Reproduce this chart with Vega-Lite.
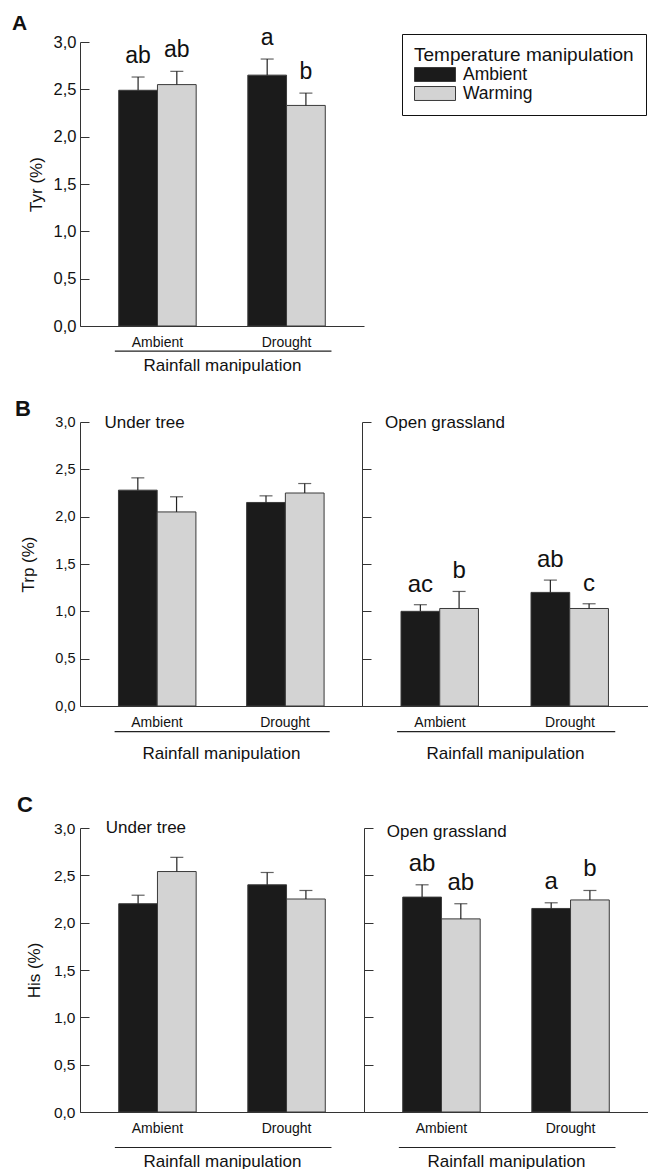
{
  "$schema": "https://vega.github.io/schema/vega-lite/v6.json",
  "padding": {"left": 12, "top": 13, "right": 0, "bottom": 0},
  "config": {
    "font": "Liberation Sans",
    "view": {"stroke": null},
    "axis": {"domainColor": "#333", "tickColor": "#333", "labelColor": "#111", "titleColor": "#111", "titleFontWeight": "normal", "grid": false},
    "title": {"fontWeight": "bold", "anchor": "start", "frame": "group", "baseline": "alphabetic", "color": "#111"}
  },
  "datasets": {
    "dA": [
      {"rain": "Ambient", "temp": "Ambient", "mean": 2.49, "upper": 2.63, "letter": "ab"},
      {"rain": "Ambient", "temp": "Warming", "mean": 2.55, "upper": 2.69, "letter": "ab"},
      {"rain": "Drought", "temp": "Ambient", "mean": 2.65, "upper": 2.82, "letter": "a"},
      {"rain": "Drought", "temp": "Warming", "mean": 2.33, "upper": 2.46, "letter": "b"}
    ],
    "dBt": [
      {"rain": "Ambient", "temp": "Ambient", "mean": 2.28, "upper": 2.41},
      {"rain": "Ambient", "temp": "Warming", "mean": 2.05, "upper": 2.21},
      {"rain": "Drought", "temp": "Ambient", "mean": 2.15, "upper": 2.22},
      {"rain": "Drought", "temp": "Warming", "mean": 2.25, "upper": 2.35}
    ],
    "dBo": [
      {"rain": "Ambient", "temp": "Ambient", "mean": 1.0, "upper": 1.07, "letter": "ac"},
      {"rain": "Ambient", "temp": "Warming", "mean": 1.03, "upper": 1.21, "letter": "b"},
      {"rain": "Drought", "temp": "Ambient", "mean": 1.2, "upper": 1.33, "letter": "ab"},
      {"rain": "Drought", "temp": "Warming", "mean": 1.03, "upper": 1.08, "letter": "c"}
    ],
    "dCt": [
      {"rain": "Ambient", "temp": "Ambient", "mean": 2.2, "upper": 2.29},
      {"rain": "Ambient", "temp": "Warming", "mean": 2.54, "upper": 2.69},
      {"rain": "Drought", "temp": "Ambient", "mean": 2.4, "upper": 2.53},
      {"rain": "Drought", "temp": "Warming", "mean": 2.25, "upper": 2.34}
    ],
    "dCo": [
      {"rain": "Ambient", "temp": "Ambient", "mean": 2.27, "upper": 2.4, "letter": "ab"},
      {"rain": "Ambient", "temp": "Warming", "mean": 2.04, "upper": 2.2, "letter": "ab"},
      {"rain": "Drought", "temp": "Ambient", "mean": 2.15, "upper": 2.21, "letter": "a"},
      {"rain": "Drought", "temp": "Warming", "mean": 2.24, "upper": 2.34, "letter": "b"}
    ]
  },
  "resolve": {"scale": {"color": "independent"}},
  "bounds": "flush",
  "spacing": 96,
  "vconcat": [
    {
      "width": 284, "height": 284,
      "title": {"text": "A", "fontSize": 21, "dx": -68, "offset": -7},
      "data": {"name": "dA"},
      "layer": [
        {
          "mark": {"type": "bar", "stroke": "#3a3a3a", "strokeWidth": 1},
          "encoding": {
            "x": {"field": "rain", "type": "nominal", "scale": {"paddingInner": 0.4, "paddingOuter": 0.3},
                  "axis": {"title": "Rainfall manipulation", "ticks": false, "labelAngle": 0, "labelFontSize": 14, "labelPadding": 9, "titleFontSize": 17, "titlePadding": 8}},
            "xOffset": {"field": "temp", "type": "nominal", "scale": {"paddingInner": 0, "paddingOuter": 0}},
            "y": {"field": "mean", "type": "quantitative", "scale": {"domain": [0, 3], "nice": false},
                  "axis": {"title": "Tyr (%)", "values": [0, 0.5, 1, 1.5, 2, 2.5, 3], "labelExpr": "replace(format(datum.value, '.1f'), '.', ',')", "tickSize": -9, "labelPadding": 13, "labelFontSize": 16.5, "titleFontSize": 17, "titlePadding": 8}},
            "color": {"field": "temp", "type": "nominal", "scale": {"domain": ["Ambient", "Warming"], "range": ["#1b1b1b", "#d3d3d3"]},
                      "legend": {"orient": "none", "legendX": 322, "legendY": -8, "title": "Temperature manipulation", "titleLimit": 400, "titleFontSize": 19, "titleFontWeight": "normal", "titleColor": "#111", "labelFontSize": 17.5, "labelColor": "#111", "symbolType": "M-1,-0.34L1,-0.34L1,0.34L-1,0.34Z", "symbolSize": 1681, "symbolStrokeColor": "#3a3a3a", "symbolStrokeWidth": 1, "clipHeight": 19, "strokeColor": "#111", "padding": 12, "symbolOffset": 0, "labelOffset": 7, "titlePadding": 0, "rowPadding": 0}}
          }
        },
        {
          "mark": {"type": "rule", "color": "#222", "strokeWidth": 1.2},
          "encoding": {
            "x": {"field": "rain", "type": "nominal"},
            "xOffset": {"field": "temp", "type": "nominal"},
            "y": {"field": "mean", "type": "quantitative"},
            "y2": {"field": "upper"}
          }
        },
        {
          "mark": {"type": "tick", "color": "#222", "size": 13, "thickness": 1.2},
          "encoding": {
            "x": {"field": "rain", "type": "nominal"},
            "xOffset": {"field": "temp", "type": "nominal"},
            "y": {"field": "upper", "type": "quantitative"}
          }
        },
        {
          "mark": {"type": "text", "fontSize": 23, "dy": -14, "baseline": "alphabetic", "color": "#111"},
          "encoding": {
            "x": {"field": "rain", "type": "nominal"},
            "xOffset": {"field": "temp", "type": "nominal"},
            "y": {"field": "upper", "type": "quantitative"},
            "text": {"field": "letter"}
          }
        },
        {
          "data": {"values": [{}]},
          "mark": {"type": "rule", "color": "#222", "strokeWidth": 1.2},
          "encoding": {
            "x": {"datum": "Ambient", "bandPosition": -0.05},
            "x2": {"datum": "Drought", "bandPosition": 1.08},
            "y": {"datum": -0.265}
          }
        }
      ]
    },
    {
      "bounds": "flush",
      "spacing": 0,
      "hconcat": [
        {
          "width": 282, "height": 284,
          "title": {"text": "B", "fontSize": 22, "dx": -65, "offset": -7},
          "data": {"name": "dBt"},
          "layer": [
            {
              "mark": {"type": "bar", "stroke": "#3a3a3a", "strokeWidth": 1},
              "encoding": {
                "x": {"field": "rain", "type": "nominal", "scale": {"paddingInner": 0.4, "paddingOuter": 0.3},
                      "axis": {"title": "Rainfall manipulation", "ticks": false, "labelAngle": 0, "labelFontSize": 14, "labelPadding": 9, "titleFontSize": 17, "titlePadding": 16}},
                "xOffset": {"field": "temp", "type": "nominal", "scale": {"paddingInner": 0, "paddingOuter": 0}},
                "y": {"field": "mean", "type": "quantitative", "scale": {"domain": [0, 3], "nice": false},
                      "axis": {"title": "Trp (%)", "values": [0, 0.5, 1, 1.5, 2, 2.5, 3], "labelExpr": "replace(format(datum.value, '.1f'), '.', ',')", "tickSize": -9, "labelPadding": 14, "labelFontSize": 14.5, "titleFontSize": 17, "titlePadding": 17}},
                "color": {"field": "temp", "type": "nominal", "scale": {"domain": ["Ambient", "Warming"], "range": ["#1b1b1b", "#d3d3d3"]}, "legend": null}
              }
            },
            {
              "mark": {"type": "rule", "color": "#222", "strokeWidth": 1.2},
              "encoding": {
                "x": {"field": "rain", "type": "nominal"},
                "xOffset": {"field": "temp", "type": "nominal"},
                "y": {"field": "mean", "type": "quantitative"},
                "y2": {"field": "upper"}
              }
            },
            {
              "mark": {"type": "tick", "color": "#222", "size": 13, "thickness": 1.2},
              "encoding": {
                "x": {"field": "rain", "type": "nominal"},
                "xOffset": {"field": "temp", "type": "nominal"},
                "y": {"field": "upper", "type": "quantitative"}
              }
            },
            {
              "data": {"values": [{"label": "Under tree"}]},
              "mark": {"type": "text", "align": "left", "baseline": "middle", "fontSize": 17, "dx": -14, "dy": 1, "color": "#111"},
              "encoding": {
                "x": {"datum": "Ambient", "bandPosition": 0},
                "y": {"datum": 3},
                "text": {"field": "label"}
              }
            },
            {
              "data": {"values": [{}]},
              "mark": {"type": "rule", "color": "#222", "strokeWidth": 1.2},
              "encoding": {
                "x": {"datum": "Ambient", "bandPosition": -0.05},
                "x2": {"datum": "Drought", "bandPosition": 1.08},
                "y": {"datum": -0.27}
              }
            }
          ]
        },
        {
          "width": 286, "height": 284,
          "data": {"name": "dBo"},
          "layer": [
            {
              "mark": {"type": "bar", "stroke": "#3a3a3a", "strokeWidth": 1},
              "encoding": {
                "x": {"field": "rain", "type": "nominal", "scale": {"paddingInner": 0.4, "paddingOuter": 0.3},
                      "axis": {"title": "Rainfall manipulation", "ticks": false, "labelAngle": 0, "labelFontSize": 14, "labelPadding": 9, "titleFontSize": 17, "titlePadding": 16}},
                "xOffset": {"field": "temp", "type": "nominal", "scale": {"paddingInner": 0, "paddingOuter": 0}},
                "y": {"field": "mean", "type": "quantitative", "scale": {"domain": [0, 3], "nice": false},
                      "axis": {"title": null, "labels": false, "values": [0, 0.5, 1, 1.5, 2, 2.5, 3], "tickSize": -9}},
                "color": {"field": "temp", "type": "nominal", "scale": {"domain": ["Ambient", "Warming"], "range": ["#1b1b1b", "#d3d3d3"]}, "legend": null}
              }
            },
            {
              "mark": {"type": "rule", "color": "#222", "strokeWidth": 1.2},
              "encoding": {
                "x": {"field": "rain", "type": "nominal"},
                "xOffset": {"field": "temp", "type": "nominal"},
                "y": {"field": "mean", "type": "quantitative"},
                "y2": {"field": "upper"}
              }
            },
            {
              "mark": {"type": "tick", "color": "#222", "size": 13, "thickness": 1.2},
              "encoding": {
                "x": {"field": "rain", "type": "nominal"},
                "xOffset": {"field": "temp", "type": "nominal"},
                "y": {"field": "upper", "type": "quantitative"}
              }
            },
            {
              "mark": {"type": "text", "fontSize": 24, "dy": -13, "baseline": "alphabetic", "color": "#111"},
              "encoding": {
                "x": {"field": "rain", "type": "nominal"},
                "xOffset": {"field": "temp", "type": "nominal"},
                "y": {"field": "upper", "type": "quantitative"},
                "text": {"field": "letter"}
              }
            },
            {
              "data": {"values": [{"label": "Open grassland"}]},
              "mark": {"type": "text", "align": "left", "baseline": "middle", "fontSize": 17, "dx": -16, "dy": 1, "color": "#111"},
              "encoding": {
                "x": {"datum": "Ambient", "bandPosition": 0},
                "y": {"datum": 3},
                "text": {"field": "label"}
              }
            },
            {
              "data": {"values": [{}]},
              "mark": {"type": "rule", "color": "#222", "strokeWidth": 1.2},
              "encoding": {
                "x": {"datum": "Ambient", "bandPosition": -0.05},
                "x2": {"datum": "Drought", "bandPosition": 1.08},
                "y": {"datum": -0.27}
              }
            }
          ]
        }
      ]
    },
    {
      "width": 1, "height": 214,
      "data": {"values": []},
      "mark": {"type": "point"}
    },
    {
      "bounds": "flush",
      "spacing": 0,
      "hconcat": [
        {
          "width": 284, "height": 284,
          "title": {"text": "C", "fontSize": 22, "dx": -63, "offset": 2},
          "data": {"name": "dCt"},
          "layer": [
            {
              "mark": {"type": "bar", "stroke": "#3a3a3a", "strokeWidth": 1},
              "encoding": {
                "x": {"field": "rain", "type": "nominal", "scale": {"paddingInner": 0.4, "paddingOuter": 0.3},
                      "axis": {"title": "Rainfall manipulation", "ticks": false, "labelAngle": 0, "labelFontSize": 14, "labelPadding": 9, "titleFontSize": 17, "titlePadding": 18}},
                "xOffset": {"field": "temp", "type": "nominal", "scale": {"paddingInner": 0, "paddingOuter": 0}},
                "y": {"field": "mean", "type": "quantitative", "scale": {"domain": [0, 3], "nice": false},
                      "axis": {"title": "His (%)", "values": [0, 0.5, 1, 1.5, 2, 2.5, 3], "labelExpr": "replace(format(datum.value, '.1f'), '.', ',')", "tickSize": -9, "labelPadding": 14, "labelFontSize": 15.5, "titleFontSize": 17, "titlePadding": 10}},
                "color": {"field": "temp", "type": "nominal", "scale": {"domain": ["Ambient", "Warming"], "range": ["#1b1b1b", "#d3d3d3"]}, "legend": null}
              }
            },
            {
              "mark": {"type": "rule", "color": "#222", "strokeWidth": 1.2},
              "encoding": {
                "x": {"field": "rain", "type": "nominal"},
                "xOffset": {"field": "temp", "type": "nominal"},
                "y": {"field": "mean", "type": "quantitative"},
                "y2": {"field": "upper"}
              }
            },
            {
              "mark": {"type": "tick", "color": "#222", "size": 13, "thickness": 1.2},
              "encoding": {
                "x": {"field": "rain", "type": "nominal"},
                "xOffset": {"field": "temp", "type": "nominal"},
                "y": {"field": "upper", "type": "quantitative"}
              }
            },
            {
              "data": {"values": [{"label": "Under tree"}]},
              "mark": {"type": "text", "align": "left", "baseline": "middle", "fontSize": 17, "dx": -13, "dy": 0, "color": "#111"},
              "encoding": {
                "x": {"datum": "Ambient", "bandPosition": 0},
                "y": {"datum": 3},
                "text": {"field": "label"}
              }
            },
            {
              "data": {"values": [{}]},
              "mark": {"type": "rule", "color": "#222", "strokeWidth": 1.2},
              "encoding": {
                "x": {"datum": "Ambient", "bandPosition": -0.05},
                "x2": {"datum": "Drought", "bandPosition": 1.08},
                "y": {"datum": -0.375}
              }
            }
          ]
        },
        {
          "width": 284, "height": 284,
          "data": {"name": "dCo"},
          "layer": [
            {
              "mark": {"type": "bar", "stroke": "#3a3a3a", "strokeWidth": 1},
              "encoding": {
                "x": {"field": "rain", "type": "nominal", "scale": {"paddingInner": 0.4, "paddingOuter": 0.3},
                      "axis": {"title": "Rainfall manipulation", "ticks": false, "labelAngle": 0, "labelFontSize": 14, "labelPadding": 9, "titleFontSize": 17, "titlePadding": 18}},
                "xOffset": {"field": "temp", "type": "nominal", "scale": {"paddingInner": 0, "paddingOuter": 0}},
                "y": {"field": "mean", "type": "quantitative", "scale": {"domain": [0, 3], "nice": false},
                      "axis": {"title": null, "labels": false, "values": [0, 0.5, 1, 1.5, 2, 2.5, 3], "tickSize": -9}},
                "color": {"field": "temp", "type": "nominal", "scale": {"domain": ["Ambient", "Warming"], "range": ["#1b1b1b", "#d3d3d3"]}, "legend": null}
              }
            },
            {
              "mark": {"type": "rule", "color": "#222", "strokeWidth": 1.2},
              "encoding": {
                "x": {"field": "rain", "type": "nominal"},
                "xOffset": {"field": "temp", "type": "nominal"},
                "y": {"field": "mean", "type": "quantitative"},
                "y2": {"field": "upper"}
              }
            },
            {
              "mark": {"type": "tick", "color": "#222", "size": 13, "thickness": 1.2},
              "encoding": {
                "x": {"field": "rain", "type": "nominal"},
                "xOffset": {"field": "temp", "type": "nominal"},
                "y": {"field": "upper", "type": "quantitative"}
              }
            },
            {
              "mark": {"type": "text", "fontSize": 24, "dy": -14, "baseline": "alphabetic", "color": "#111"},
              "encoding": {
                "x": {"field": "rain", "type": "nominal"},
                "xOffset": {"field": "temp", "type": "nominal"},
                "y": {"field": "upper", "type": "quantitative"},
                "text": {"field": "letter"}
              }
            },
            {
              "data": {"values": [{"label": "Open grassland"}]},
              "mark": {"type": "text", "align": "left", "baseline": "middle", "fontSize": 17, "dx": -16, "dy": 4, "color": "#111"},
              "encoding": {
                "x": {"datum": "Ambient", "bandPosition": 0},
                "y": {"datum": 3},
                "text": {"field": "label"}
              }
            },
            {
              "data": {"values": [{}]},
              "mark": {"type": "rule", "color": "#222", "strokeWidth": 1.2},
              "encoding": {
                "x": {"datum": "Ambient", "bandPosition": -0.05},
                "x2": {"datum": "Drought", "bandPosition": 1.08},
                "y": {"datum": -0.375}
              }
            }
          ]
        }
      ]
    }
  ]
}
